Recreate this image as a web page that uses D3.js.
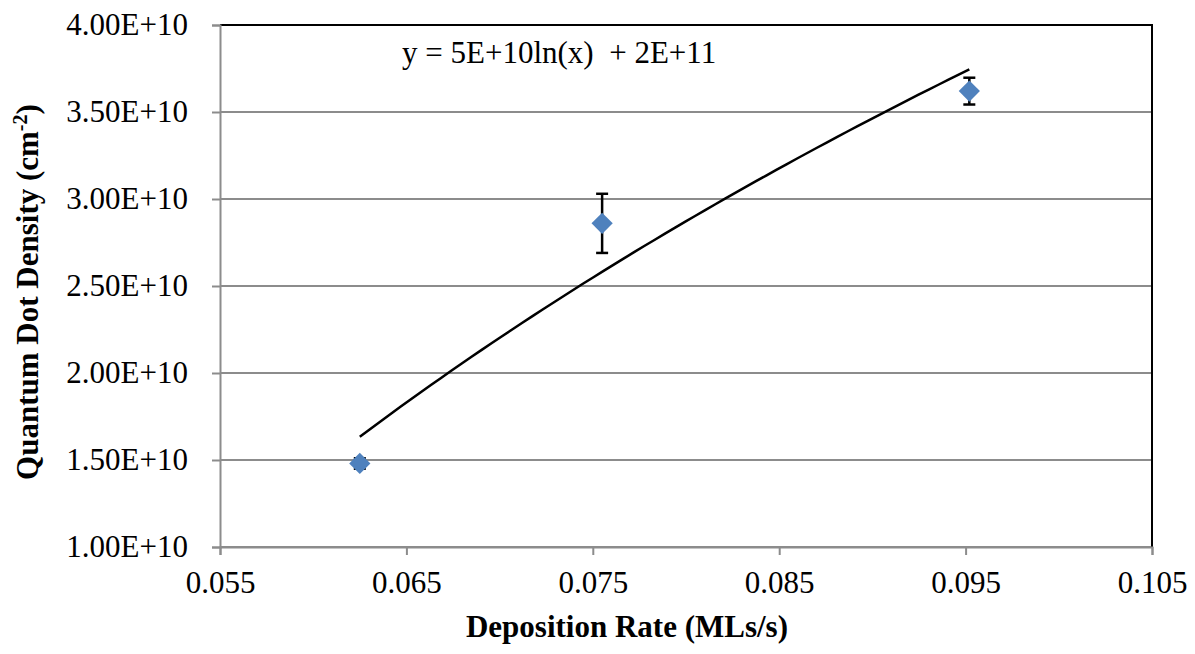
<!DOCTYPE html>
<html>
<head>
<meta charset="utf-8">
<script src="https://cdn.jsdelivr.net/npm/d3@7"></script>
<style>
    body { margin: 0; background: white; }
    text { font-family: "Liberation Serif", "Times New Roman", serif; }
</style>
</head>
<body>
<script>
// deposition rate (MLs/s) and measured dot density (cm^-2)
var rates = [0.0625, 0.0755, 0.0952];
var densities = [1.48e10, 2.86e10, 3.62e10];
var errors = [0.03e10, 0.17e10, 0.077e10];

var xTicks = [0.055, 0.065, 0.075, 0.085, 0.095, 0.105];
var yTicks = [1e10, 1.5e10, 2e10, 2.5e10, 3e10, 3.5e10, 4e10];

var equationLabel = "y = 5E+10ln(x)  + 2E+11";

var width = 1195, height = 654;
var plot = { left: 220, right: 1152, top: 25, bottom: 547 };

var svg = d3.select("body").append("svg")
    .attr("width", width)
    .attr("height", height);

var x = d3.scaleLinear().domain([0.055, 0.105]).range([plot.left, plot.right]);
var y = d3.scaleLinear().domain([1e10, 4e10]).range([plot.bottom, plot.top]);

// gridlines
svg.append("g")
    .selectAll("line")
    .data(yTicks)
    .join("line")
    .attr("x1", plot.left)
    .attr("x2", plot.right)
    .attr("y1", d => y(d))
    .attr("y2", d => y(d))
    .attr("stroke", "#8c8c8c")
    .attr("stroke-width", 2);

// top and right border
svg.append("path")
    .attr("d", "M" + plot.left + "," + plot.top + "H" + plot.right + "V" + plot.bottom)
    .attr("fill", "none")
    .attr("stroke", "black")
    .attr("stroke-width", 2);

var xAxis = svg.append("g")
    .attr("transform", "translate(0," + plot.bottom + ")")
    .call(d3.axisBottom(x).tickValues(xTicks).tickFormat(d3.format(".3f")).tickSize(8).tickPadding(16));

var yAxis = svg.append("g")
    .attr("transform", "translate(" + plot.left + ",0)")
    .call(d3.axisLeft(y).tickValues(yTicks)
        .tickFormat(d => (d / 1e10).toFixed(2) + "E+10")
        .tickSize(8).tickPadding(24));

[xAxis, yAxis].forEach(function (g) {
    g.select(".domain").attr("stroke", "#8c8c8c").attr("stroke-width", 2);
    g.selectAll(".tick line").attr("stroke", "#8c8c8c").attr("stroke-width", 2);
    g.selectAll("text")
        .attr("fill", "black")
        .style("font-size", "31px")
        .style("font-family", "'Liberation Serif', 'Times New Roman', serif");
});

// logarithmic trendline fitted to the data
var lx = rates.map(Math.log);
var mx = d3.mean(lx), my = d3.mean(densities);
var sxy = d3.sum(lx, (v, i) => (v - mx) * (densities[i] - my));
var sxx = d3.sum(lx, v => (v - mx) * (v - mx));
var a = sxy / sxx, b = my - a * mx;

var fitX = d3.range(0, 61).map(i => d3.min(rates) + (d3.max(rates) - d3.min(rates)) * i / 60);

svg.append("path")
    .datum(fitX)
    .attr("fill", "none")
    .attr("stroke", "black")
    .attr("stroke-width", 2.5)
    .attr("d", d3.line().x(d => x(d)).y(d => y(a * Math.log(d) + b)));

// error bars
var bars = svg.append("g")
    .attr("stroke", "black")
    .attr("stroke-width", 2.5);

rates.forEach(function (r, i) {
    var cx = x(r);
    var top = y(densities[i] + errors[i]);
    var bot = y(densities[i] - errors[i]);
    bars.append("line").attr("x1", cx).attr("x2", cx).attr("y1", top).attr("y2", bot);
    bars.append("line").attr("x1", cx - 6).attr("x2", cx + 6).attr("y1", top).attr("y2", top);
    bars.append("line").attr("x1", cx - 6).attr("x2", cx + 6).attr("y1", bot).attr("y2", bot);
});

// diamond markers
svg.append("g")
    .selectAll("path")
    .data(rates)
    .join("path")
    .attr("d", d3.symbol(d3.symbolSquare).size(225))
    .attr("transform", (d, i) => "translate(" + x(d) + "," + y(densities[i]) + ") rotate(45)")
    .attr("fill", "#4f81bd");

// equation
svg.append("text")
    .attr("x", 402)
    .attr("y", 63)
    .style("font-size", "31px")
    .style("white-space", "pre")
    .text(equationLabel);

// axis titles
svg.append("text")
    .attr("x", 627)
    .attr("y", 637)
    .attr("text-anchor", "middle")
    .style("font-size", "31px")
    .style("font-weight", "bold")
    .text("Deposition Rate (MLs/s)");

var yTitle = svg.append("text")
    .attr("transform", "translate(38,292) rotate(-90)")
    .attr("text-anchor", "middle")
    .style("font-size", "31px")
    .style("font-weight", "bold");
yTitle.append("tspan").text("Quantum Dot Density (cm");
yTitle.append("tspan").attr("dy", -11).style("font-size", "20px").text("-2");
yTitle.append("tspan").attr("dy", 11).text(")");
</script>
</body>
</html>
